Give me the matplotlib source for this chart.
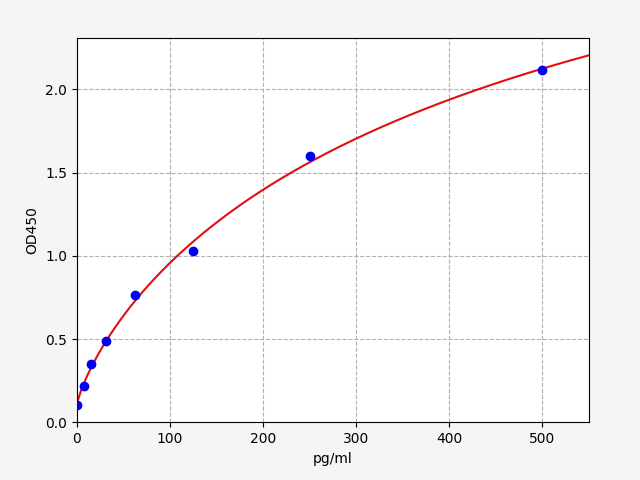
import numpy as np
import matplotlib
matplotlib.use("Agg")
import matplotlib.pyplot as plt

conc = [0, 7.8, 15.6, 31.25, 62.5, 125, 250, 500]
od = [0.102, 0.216, 0.348, 0.486, 0.763, 1.027, 1.598, 2.114]


def fit_4pl(x, y):
    # grid over slope b and midpoint c, linear least squares for a and d
    x = np.asarray(x, float)
    y = np.asarray(y, float)
    best = None
    for b in np.linspace(0.3, 2.5, 111):
        for c in np.logspace(1, 4.5, 200):
            g = 1.0 / (1.0 + (x / c) ** b)
            A = np.column_stack([g, 1 - g])
            coef, *_ = np.linalg.lstsq(A, y, rcond=None)
            err = np.sum((A @ coef - y) ** 2)
            if best is None or err < best[0]:
                best = (err, coef[0], b, c, coef[1])
    return best[1:]


a, b, c, d = fit_4pl(conc, od)
xs = np.linspace(0, 550, 500)
ys = d + (a - d) / (1 + (xs / c) ** b)

fig = plt.figure(figsize=(6.4, 4.8), dpi=100, facecolor="#f5f5f5")
ax = fig.add_axes([0.12, 0.12, 0.8, 0.8])
ax.plot(xs, ys, color="#e01010", lw=1.5, zorder=2)
ax.plot(conc, od, "o", color="#0000ee", ms=6, zorder=3)
ax.grid(True, linestyle="--", color="#b0b0b0")
ax.set_axisbelow(True)
ax.set_xlim(0, 550)
ax.set_ylim(0, 2.305)
ax.set_xlabel("pg/ml")
ax.set_ylabel("OD450")
fig.savefig("out.png", facecolor=fig.get_facecolor())
